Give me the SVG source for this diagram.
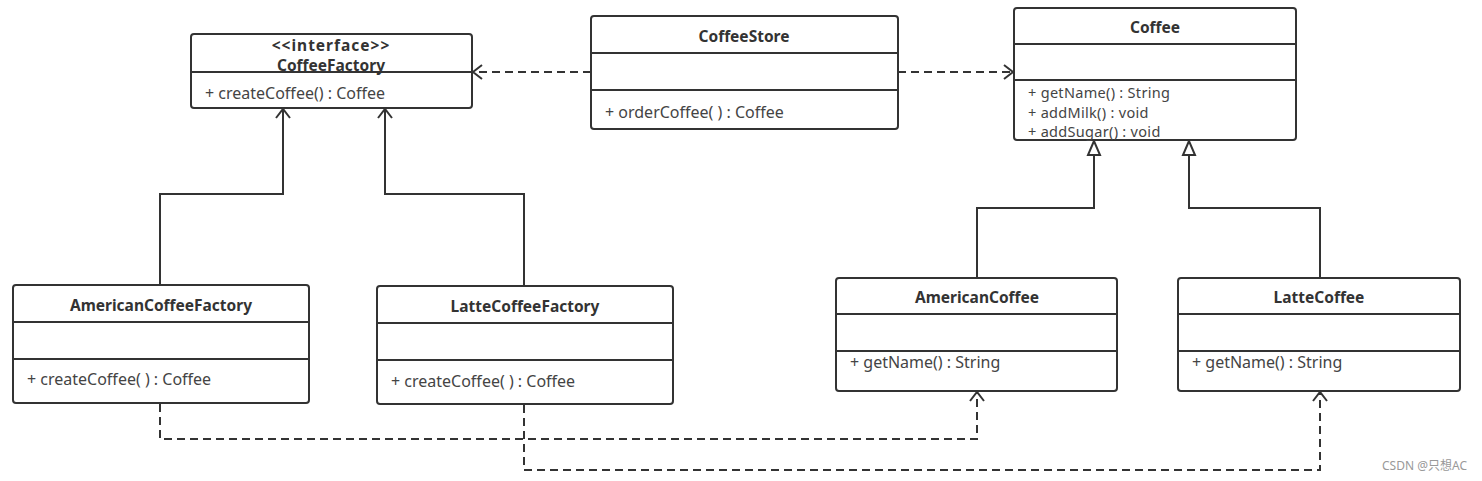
<svg xmlns="http://www.w3.org/2000/svg" width="1482" height="481" viewBox="0 0 1482 481">
<style>
.box{fill:#fff;stroke:#333;stroke-width:2}
.sep{stroke:#333;stroke-width:2}
.t{font-family:"Noto Sans","Open Sans",sans-serif;font-size:15.5px;font-weight:bold;fill:#333;text-anchor:middle}
.m{font-family:"Noto Sans","Open Sans",sans-serif;font-size:16px;fill:#444}
.mc{font-family:"Noto Sans","Open Sans",sans-serif;font-size:14.5px;fill:#444;letter-spacing:0.3px}
.solid{fill:none;stroke:#333;stroke-width:2}
.dash{fill:none;stroke:#333;stroke-width:2;stroke-dasharray:8 5}
.open{fill:none;stroke:#333;stroke-width:2}
.tri{fill:#fff;stroke:#333;stroke-width:2}
</style>
<rect width="1482" height="481" fill="#fff"/>
<g id="connectors">
<path class="dash" d="M591 72H474"/>
<path class="open" d="M482 65L473 72L482 79"/>
<path class="dash" d="M898 72H1012"/>
<path class="open" d="M1004 65L1013 72L1004 79"/>
<path class="solid" d="M160 285V194H283V110"/>
<path class="open" d="M276 118L283 109L290 118"/>
<path class="solid" d="M524 286V194H385V110"/>
<path class="open" d="M378 118L385 109L392 118"/>
<path class="solid" d="M977 278V208H1094V155"/>
<path class="tri" d="M1094 141L1088 155H1100Z"/>
<path class="solid" d="M1320 278V208H1189V155"/>
<path class="tri" d="M1189 141L1183 155H1195Z"/>
<path class="dash" d="M160 404V439H977V393"/>
<path class="open" d="M970 401L977 392L984 401"/>
<path class="dash" d="M524 405V470H1320V393"/>
<path class="open" d="M1313 401L1320 392L1327 401"/>
</g>
<g id="CoffeeFactory">
<rect class="box" x="191" y="34" width="281" height="74" rx="3"/>
<line class="sep" x1="191" y1="72" x2="472" y2="72"/>
<text class="t" x="331" y="51" letter-spacing="1">&lt;&lt;interface&gt;&gt;</text>
<text class="t" x="331" y="71">CoffeeFactory</text>
<text class="m" x="205" y="99">+ createCoffee() : Coffee</text>
</g>
<g id="CoffeeStore">
<rect class="box" x="591" y="16" width="307" height="113" rx="3"/>
<line class="sep" x1="591" y1="53" x2="898" y2="53"/>
<line class="sep" x1="591" y1="90" x2="898" y2="90"/>
<text class="t" x="744" y="42">CoffeeStore</text>
<text class="m" x="605" y="118">+ orderCoffee( ) : Coffee</text>
</g>
<g id="Coffee">
<rect class="box" x="1014" y="8" width="282" height="132" rx="3"/>
<line class="sep" x1="1014" y1="44" x2="1296" y2="44"/>
<line class="sep" x1="1014" y1="80" x2="1296" y2="80"/>
<text class="t" x="1155" y="33">Coffee</text>
<text class="mc" x="1028" y="98">+ getName() : String</text>
<text class="mc" x="1028" y="117.5">+ addMilk() : void</text>
<text class="mc" x="1028" y="137">+ addSugar() : void</text>
</g>
<g id="AmericanCoffeeFactory">
<rect class="box" x="13" y="285" width="296" height="118" rx="3"/>
<line class="sep" x1="13" y1="322" x2="309" y2="322"/>
<line class="sep" x1="13" y1="359" x2="309" y2="359"/>
<text class="t" x="161" y="311">AmericanCoffeeFactory</text>
<text class="m" x="27" y="385">+ createCoffee( ) : Coffee</text>
</g>
<g id="LatteCoffeeFactory">
<rect class="box" x="377" y="286" width="296" height="118" rx="3"/>
<line class="sep" x1="377" y1="323" x2="673" y2="323"/>
<line class="sep" x1="377" y1="360" x2="673" y2="360"/>
<text class="t" x="525" y="312">LatteCoffeeFactory</text>
<text class="m" x="391" y="387">+ createCoffee( ) : Coffee</text>
</g>
<g id="AmericanCoffee">
<rect class="box" x="836" y="278" width="281" height="113" rx="3"/>
<line class="sep" x1="836" y1="314" x2="1117" y2="314"/>
<line class="sep" x1="836" y1="351" x2="1117" y2="351"/>
<text class="t" x="977" y="303">AmericanCoffee</text>
<text class="m" x="850" y="368">+ getName() : String</text>
</g>
<g id="LatteCoffee">
<rect class="box" x="1178" y="278" width="282" height="113" rx="3"/>
<line class="sep" x1="1178" y1="314" x2="1460" y2="314"/>
<line class="sep" x1="1178" y1="351" x2="1460" y2="351"/>
<text class="t" x="1319" y="303">LatteCoffee</text>
<text class="m" x="1192" y="368">+ getName() : String</text>
</g>
<text x="1467" y="470" text-anchor="end" font-family="Noto Sans, Noto Sans CJK SC, sans-serif" font-size="12" fill="#999">CSDN @只想AC</text>
</svg>
